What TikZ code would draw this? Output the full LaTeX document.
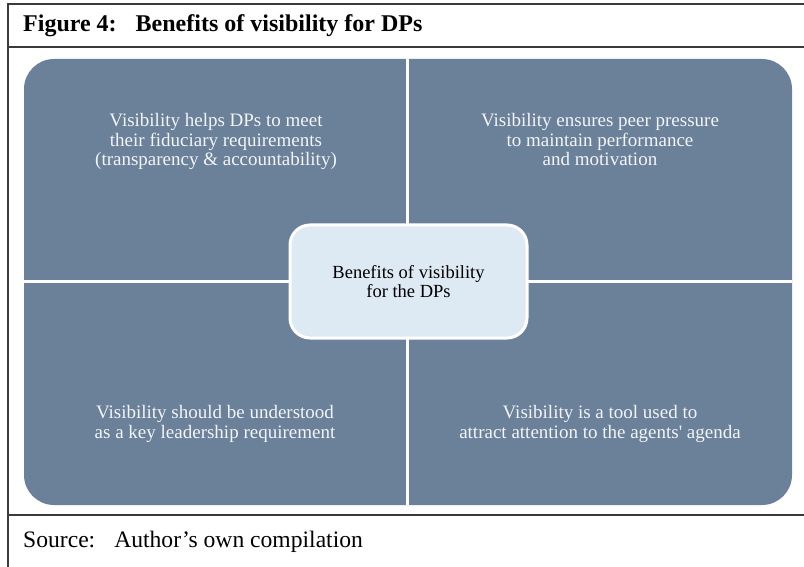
\documentclass[tikz,border=0pt]{standalone}
\usepackage{fontspec}
\setmainfont{Liberation Serif}
\definecolor{quad}{HTML}{6B8199}
\definecolor{centerfill}{HTML}{DEEAF3}
\definecolor{rulecol}{HTML}{3A3A3A}
\definecolor{qtext}{HTML}{F2F4F7}
\begin{document}
\begin{tikzpicture}[x=1pt,y=-1pt,
  frame/.style={draw=rulecol,line width=1.4pt},
  qtxt/.style={text=qtext,align=center,inner sep=0pt,anchor=base,font=\fontsize{19}{19.5}\selectfont},
  ctr/.style={fill=centerfill,draw=white,line width=3pt,rounded corners=20pt},
]
\useasboundingbox (0,0) rectangle (804,567);
\fill[white] (0,0) rectangle (804,567);
% frame
\draw[frame] (804,4) -- (8,4) -- (8,567);
\draw[frame] (8,47) -- (804,47);
\draw[frame] (8,515) -- (804,515);
% title and source
\node[anchor=base west,inner sep=0pt,font=\fontsize{24}{27}\selectfont\bfseries] (title) at (23,32)
  {Figure 4:\hspace{19pt}Benefits of visibility for DPs};
\node[anchor=base west,inner sep=0pt,font=\fontsize{23.6}{26}\selectfont] (source) at (23,547)
  {Source:\hspace{19pt}Author’s own compilation};
% quadrants
\fill[quad,rounded corners=30pt] (24,59) rectangle (792,505);
\draw[white,line width=3pt] (407.5,59) -- (407.5,505);
\draw[white,line width=3pt] (24,281) -- (792,281);
\node[qtxt] (tl) at (216,166) {Visibility helps DPs to meet\\their fiduciary requirements\\(transparency \& accountability)};
\node[qtxt] (tr) at (600,166) {Visibility ensures peer pressure\\to maintain performance\\and motivation};
\node[qtxt] (bl) at (215,438) {Visibility should be understood\\as a key leadership requirement};
\node[qtxt] (br) at (600,438) {Visibility is a tool used to\\attract attention to the agents\textquotesingle{} agenda};
% center
\draw[ctr] (290,225) rectangle (527,338);
\node[align=center,inner sep=0pt,anchor=base,font=\fontsize{18.5}{19.5}\selectfont] (c) at (408.5,298) {Benefits of visibility\\for the DPs};
\end{tikzpicture}
\end{document}
